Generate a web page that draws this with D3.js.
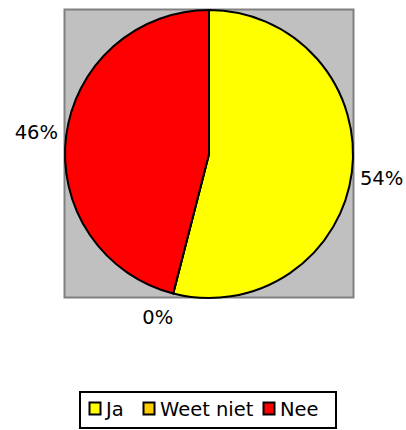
<!DOCTYPE html><meta charset="utf-8">
<title>Pie</title>
<style>
  body{margin:0;background:#fff}
  svg{display:block}
  text{font-family:"DejaVu Sans",sans-serif;fill:#000}
</style>
<script src="https://d3js.org/d3.v7.min.js"></script>
<body><script>
const categories = ["Ja", "Weet niet", "Nee"];
const values     = [54, 0, 46];
const colors     = ["#ffff00", "#ffcc00", "#ff0000"];

const W = 406, H = 430;
const cx = 209, cy = 154, r = 144;

const svg = d3.select("body").append("svg").attr("width", W).attr("height", H);

/* plot area */
svg.append("rect").attr("x", 64.5).attr("y", 9.5).attr("width", 289).attr("height", 288)
  .attr("fill", "#c0c0c0").attr("stroke", "#808080").attr("stroke-width", 2);

const total = d3.sum(values);
const pie = d3.pie().sort(null).value(d => d)(values);
const arc = d3.arc().innerRadius(0).outerRadius(r);

const g = svg.append("g").attr("transform", `translate(${cx},${cy})`);
g.selectAll("path").data(pie).enter().append("path")
  .attr("d", arc)
  .attr("fill", (d, i) => colors[i])
  .attr("stroke", "#000").attr("stroke-width", 2).attr("stroke-linejoin", "round");

// labels
const labelR = 174;
g.selectAll("text.lbl").data(pie).enter().append("text")
  .attr("class", "lbl")
  .attr("x", d => { const a = (d.startAngle + d.endAngle) / 2; return Math.sin(a) * labelR - (d.value === 0 ? 8 : 0); })
  .attr("y", d => { const a = (d.startAngle + d.endAngle) / 2; return -Math.cos(a) * labelR - (d.value === 0 ? 5 : 0) + (a < Math.PI ? 3 : 0); })
  .attr("text-anchor", "middle").attr("dominant-baseline", "central")
  .style("font-size", "19.5px")
  .text(d => Math.round(d.value / total * 100) + "%");

/* legend */
const leg = svg.append("g");
leg.append("rect").attr("x", 80).attr("y", 392).attr("width", 256).attr("height", 36)
  .attr("fill", "#fff").attr("stroke", "#000").attr("stroke-width", 2);
const legX = [89, 143, 263];
categories.forEach((c, i) => {
  leg.append("rect").attr("x", legX[i] + 0.5).attr("y", 402.5).attr("width", 11).attr("height", 12)
    .attr("fill", colors[i]).attr("stroke", "#000").attr("stroke-width", 2);
  leg.append("text").attr("x", legX[i] + 17).attr("y", 416)
    .style("font-size", "19.5px").text(c);
});
</script>
